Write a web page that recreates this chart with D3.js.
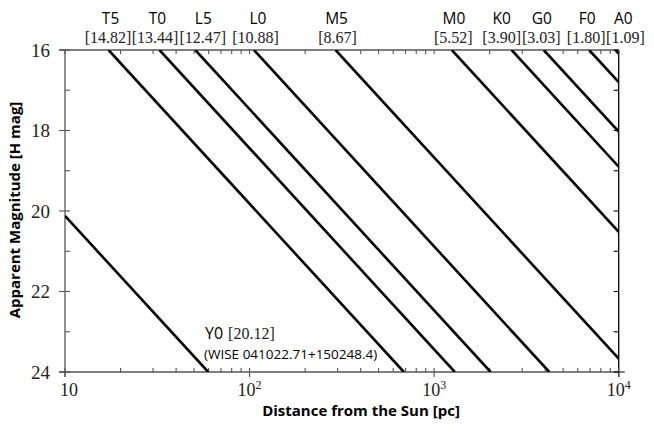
<!DOCTYPE html>
<html><head><meta charset="utf-8">
<script src="https://cdn.jsdelivr.net/npm/d3@7"></script>
<style>body{margin:0;background:#fff}svg{display:block}</style>
</head><body>
<svg id="c" width="654" height="434"></svg>
<script>
// Spectral types and absolute H magnitudes
const types = ["T5","T0","L5","L0","M5","M0","K0","G0","F0","A0"];
const absMag = [14.82,13.44,12.47,10.88,8.67,5.52,3.90,3.03,1.80,1.09];
const y0Type = "Y0";
const y0AbsMag = 20.12;
const y0Name = "(WISE 041022.71+150248.4)";
const xTicks = [10,100,1000,10000];
const yTicks = [16,18,20,22,24];
const yMinor = [17,19,21,23];

// label layout nudges (px) so labels don't collide
const labelDx = [2,-2,8,4,1,2,-10,-2,-2,8];
const bracketDx = [-0.5,-4.5,7.5,1.5,2,1.5,-10,-2.5,-3,10];

const svg = d3.select("#c");
const L=65, R=618.7, T=50, B=372;
const x = d3.scaleLog().domain([10,1e4]).range([L,R]);
const y = d3.scaleLinear().domain([16,24]).range([T,B]);
const gray = "#555";

function seg(M){
  const dTop = Math.pow(10,(16-M+5)/5), dBot = Math.pow(10,(24-M+5)/5);
  const d1 = Math.max(10,dTop), d2 = Math.min(1e4,dBot);
  return [[d1, M+5*Math.log10(d1)-5],[d2, M+5*Math.log10(d2)-5]];
}
const line = d3.line().x(d=>x(d[0])).y(d=>y(d[1]));

// minor x ticks
const minorX = [];
for(let e=1;e<4;e++) for(let k=2;k<=9;k++) minorX.push(k*Math.pow(10,e));

// axes
const g = svg.append("g");
g.append("line").attr("x1",L-6).attr("x2",R+6).attr("y1",B).attr("y2",B).attr("stroke",gray).attr("stroke-width",1.3);
g.append("line").attr("x1",L-6).attr("x2",R).attr("y1",T).attr("y2",T).attr("stroke",gray).attr("stroke-width",1.3);
g.append("line").attr("x1",L).attr("x2",L).attr("y1",T).attr("y2",B+5).attr("stroke",gray).attr("stroke-width",1.3);
g.append("line").attr("x1",R).attr("x2",R).attr("y1",T).attr("y2",B+5).attr("stroke","#000").attr("stroke-width",1.3);

xTicks.forEach(v=>{
  g.append("line").attr("x1",x(v)).attr("x2",x(v)).attr("y1",B-4).attr("y2",B+5).attr("stroke",gray).attr("stroke-width",1.1);
  g.append("line").attr("x1",x(v)).attr("x2",x(v)).attr("y1",T).attr("y2",T+4).attr("stroke",gray).attr("stroke-width",1.1);
});
minorX.forEach(v=>{
  g.append("line").attr("x1",x(v)).attr("x2",x(v)).attr("y1",B-4).attr("y2",B).attr("stroke",gray).attr("stroke-width",1.1);
  g.append("line").attr("x1",x(v)).attr("x2",x(v)).attr("y1",T).attr("y2",T+4).attr("stroke",gray).attr("stroke-width",1.1);
});
yTicks.forEach(v=>{
  g.append("line").attr("x1",L-6).attr("x2",L+5).attr("y1",y(v)).attr("y2",y(v)).attr("stroke",gray).attr("stroke-width",1.1);
  g.append("line").attr("x1",R-5).attr("x2",R).attr("y1",y(v)).attr("y2",y(v)).attr("stroke","#000").attr("stroke-width",1.1);
});
yMinor.forEach(v=>{
  g.append("line").attr("x1",L).attr("x2",L+5).attr("y1",y(v)).attr("y2",y(v)).attr("stroke",gray).attr("stroke-width",1.1);
  g.append("line").attr("x1",R-5).attr("x2",R).attr("y1",y(v)).attr("y2",y(v)).attr("stroke","#000").attr("stroke-width",1.1);
});

const serif = "'Liberation Serif','DejaVu Serif',serif";
const sans = "'Open Sans','Liberation Sans',sans-serif";
yTicks.forEach(v=>{
  svg.append("text").attr("x",50).attr("y",y(v)).attr("dy","0.36em").attr("text-anchor","end")
    .attr("font-family",serif).attr("font-size",19).attr("fill","#222").text(v);
});
xTicks.forEach(v=>{
  const e = Math.round(Math.log10(v));
  const t = svg.append("text").attr("x",x(v)+(e===1?4:0)).attr("y",395.5).attr("text-anchor","middle")
    .attr("font-family",serif).attr("font-size",18).attr("fill","#222");
  if(e===1){ t.text("10"); }
  else { t.append("tspan").text("10"); t.append("tspan").attr("dy",-7).attr("font-size",12).text(e); }
});

svg.append("text").attr("x",361).attr("y",416).attr("text-anchor","middle")
  .attr("font-family",sans).attr("font-weight","bold").attr("font-size",15).attr("fill","#000")
  .text("Distance from the Sun [pc]");
svg.append("text").attr("transform","translate(20,210) rotate(-90)").attr("text-anchor","middle")
  .attr("font-family",sans).attr("font-weight","bold").attr("font-size",15).attr("fill","#000")
  .text("Apparent Magnitude [H mag]");

svg.append("clipPath").attr("id","pc").append("rect").attr("x",L).attr("y",T).attr("width",R-L).attr("height",B-T);
const lg = svg.append("g").attr("clip-path","url(#pc)");
absMag.concat([y0AbsMag]).forEach(M=>{
  lg.append("path").attr("d",line(seg(M))).attr("stroke","#000").attr("stroke-width",2.6).attr("fill","none");
});

types.forEach((t,i)=>{
  const M = absMag[i];
  const xd = x(Math.pow(10,(16-M+5)/5));
  svg.append("text").attr("x",xd+labelDx[i]).attr("y",24).attr("text-anchor","middle")
    .attr("font-family",sans).attr("font-size",15.5).attr("fill","#000").text(t);
  svg.append("text").attr("x",xd+bracketDx[i]).attr("y",43).attr("text-anchor","middle")
    .attr("font-family",serif).attr("font-size",16).attr("fill","#222").text("["+M.toFixed(2)+"]");
});

const yl = svg.append("text").attr("x",205).attr("y",338.5).attr("font-family",sans).attr("font-size",16).attr("fill","#000");
yl.append("tspan").text(y0Type);
yl.append("tspan").attr("font-family",serif).attr("fill","#222").attr("dx",5).text("["+y0AbsMag.toFixed(2)+"]");
svg.append("text").attr("x",204).attr("y",358.5).attr("font-family",sans).attr("font-size",13.5).attr("fill","#000").text(y0Name);
</script>
</body></html>
